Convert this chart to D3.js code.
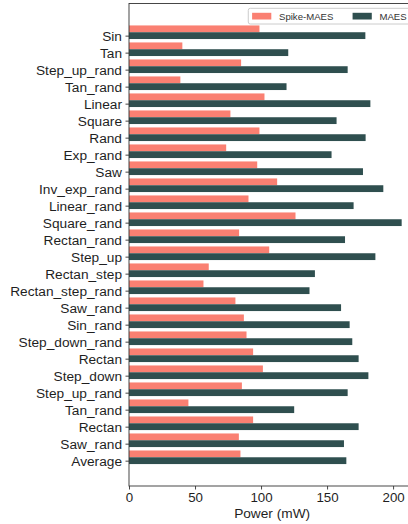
<!DOCTYPE html>
<html>
<head>
<meta charset="utf-8">
<script src="https://cdn.jsdelivr.net/npm/d3@7"></script>
<style>
  html, body { margin: 0; padding: 0; background: #fff; }
  svg { display: block; }
  text { font-family: Arial, "Liberation Sans", sans-serif; fill: #1f1f1f; }
</style>
</head>
<body>
<svg id="chart" width="408" height="524"></svg>
<script>
// Waveform test cases, top to bottom
const categories = [
  "Sin", "Tan", "Step_up_rand", "Tan_rand", "Linear", "Square", "Rand",
  "Exp_rand", "Saw", "Inv_exp_rand", "Linear_rand", "Square_rand",
  "Rectan_rand", "Step_up", "Rectan_step", "Rectan_step_rand", "Saw_rand",
  "Sin_rand", "Step_down_rand", "Rectan", "Step_down", "Step_up_rand",
  "Tan_rand", "Rectan", "Saw_rand", "Average"
];

// Power consumption (mW)
const spikeMaes = [
  98.8, 40.4, 84.9, 38.9, 102.6, 76.8, 98.8, 73.6, 97.1, 112.2, 90.5, 126.1,
  83.4, 106.2, 60.4, 56.4, 80.6, 87.0, 89.0, 94.0, 101.4, 85.5, 45.0, 94.0,
  83.2, 84.4
];
const maes = [
  179.0, 120.6, 165.6, 119.3, 182.8, 157.2, 179.2, 153.4, 177.2, 192.6, 170.1,
  206.5, 163.6, 186.6, 140.8, 136.7, 160.6, 167.1, 169.1, 173.9, 181.3, 165.6,
  125.1, 173.9, 162.8, 164.6
];

const seriesNames = ["Spike-MAES", "MAES"];
const seriesColors = ["#fa8072", "#2f4f4f"];
const xTicks = [0, 50, 100, 150, 200];
const xLabel = "Power (mW)";

const svg = d3.select("#chart");

// Plot frame (the right edge runs just past the canvas)
const plotLeft = 129, plotRight = 415.3, plotTop = 3.5, plotBottom = 486;

const barH = 0.4;                  // bar thickness in category units
const xMax = d3.max(maes) * 1.05;
const x = d3.scaleLinear().domain([0, xMax]).range([plotLeft, plotRight]);

const yLo = -1.5 * barH, yHi = (categories.length - 1) + 0.5 * barH;
const yPad = (yHi - yLo) * 0.05;
const y = d3.scaleLinear().domain([yLo - yPad, yHi + yPad]).range([plotTop, plotBottom]);

const idx = d3.range(categories.length);

// Bars: Spike-MAES sits just above each tick, MAES centred on it
const g = svg.append("g");
g.selectAll("rect.spike").data(idx).join("rect")
  .attr("class", "spike")
  .attr("x", x(0))
  .attr("y", i => y(i - 1.5 * barH))
  .attr("width", i => x(spikeMaes[i]) - x(0))
  .attr("height", y(barH) - y(0))
  .attr("fill", seriesColors[0]);

g.selectAll("rect.maes").data(idx).join("rect")
  .attr("class", "maes")
  .attr("x", x(0))
  .attr("y", i => y(i - 0.5 * barH))
  .attr("width", i => x(maes[i]) - x(0))
  .attr("height", y(barH) - y(0))
  .attr("fill", seriesColors[1]);

// Axes
const yAxis = d3.axisLeft(y)
  .tickValues(idx)
  .tickFormat(i => categories[i])
  .tickSize(3.5)
  .tickPadding(3.5);
const yg = svg.append("g").attr("transform", `translate(${plotLeft},0)`).call(yAxis);
yg.select(".domain").remove();
yg.selectAll(".tick line").attr("stroke", "#333").attr("stroke-width", 0.9);
yg.selectAll(".tick text")
  .style("font-size", "13.7px")
  .style("font-family", 'Arial, "Liberation Sans", sans-serif')
  .attr("fill", "#1f1f1f");

const xAxis = d3.axisBottom(x)
  .tickValues(xTicks)
  .tickFormat(d3.format("d"))
  .tickSize(3.5)
  .tickPadding(3.5);
const xg = svg.append("g").attr("transform", `translate(0,${plotBottom})`).call(xAxis);
xg.select(".domain").remove();
xg.selectAll(".tick line").attr("stroke", "#333").attr("stroke-width", 0.9);
xg.selectAll(".tick text")
  .style("font-size", "13.3px")
  .style("font-family", 'Arial, "Liberation Sans", sans-serif')
  .attr("fill", "#1f1f1f");

// Frame
svg.append("rect")
  .attr("x", plotLeft).attr("y", plotTop)
  .attr("width", plotRight - plotLeft).attr("height", plotBottom - plotTop)
  .attr("fill", "none").attr("stroke", "#333").attr("stroke-width", 0.9);

// Axis title
svg.append("text")
  .attr("x", (plotLeft + plotRight) / 2)
  .attr("y", 518)
  .attr("text-anchor", "middle")
  .style("font-size", "13.7px")
  .text(xLabel);

// Legend (two columns, upper right)
const fs = 9.6;
const lg = svg.append("g");
const box = lg.append("rect");
const items = [];
seriesNames.forEach((name, k) => {
  const it = lg.append("g");
  it.append("rect")
    .attr("x", 0).attr("y", -0.35 * fs)
    .attr("width", 2 * fs).attr("height", 0.7 * fs)
    .attr("fill", seriesColors[k]);
  const t = it.append("text")
    .attr("x", 2.8 * fs).attr("y", 0.35 * fs)
    .style("font-size", fs + "px")
    .style("fill", "#333")
    .text(name);
  const w = 2.8 * fs + t.node().getComputedTextLength();
  items.push({ it, w });
});
const pad = 0.4 * fs, colGap = 2 * fs;
const totalW = pad * 2 + d3.sum(items, d => d.w) + colGap * (items.length - 1);
const boxH = 15.7;
const bx = plotRight - 0.5 * fs - totalW, by = plotTop + 0.5 * fs;
box.attr("x", bx).attr("y", by)
  .attr("width", totalW).attr("height", boxH)
  .attr("rx", 2).attr("ry", 2)
  .attr("fill", "#fff").attr("fill-opacity", 0.8)
  .attr("stroke", "#cccccc").attr("stroke-width", 1);
let cx = bx + pad;
items.forEach(d => {
  d.it.attr("transform", `translate(${cx},${by + boxH / 2})`);
  cx += d.w + colGap;
});
</script>
</body>
</html>
